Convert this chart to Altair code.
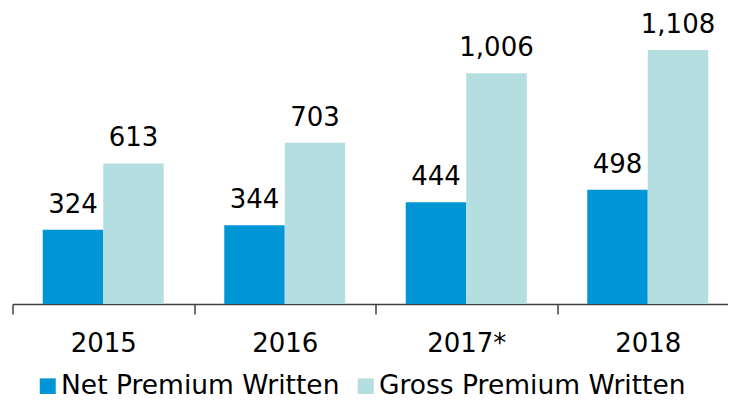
import altair as alt
import pandas as pd

years = ["2015", "2016", "2017*", "2018"]
net = [324, 344, 444, 498]
gross = [613, 703, 1006, 1108]
series = ["Net Premium Written", "Gross Premium Written"]
colors = ["#0096D6", "#B4DEE0"]

rows = []
for i, yr in enumerate(years):
    rows.append({"year": yr, "series": series[0], "value": net[i]})
    rows.append({"year": yr, "series": series[1], "value": gross[i]})
df = pd.DataFrame(rows)

FONT = "DejaVu Sans"

x = alt.X(
    "year:N", sort=years, title=None,
    scale=alt.Scale(paddingInner=0, paddingOuter=0),
    axis=alt.Axis(labelAngle=0, labelFontSize=26, labelFont=FONT, labelColor="black",
                  tickBand="extent", tickSize=10, labelPadding=16,
                  domainColor="#404040", tickColor="#404040",
                  domainWidth=1.5, tickWidth=1.5, grid=False),
)
xoff = alt.XOffset("series:N", sort=series, scale=alt.Scale(paddingInner=0, paddingOuter=0.5))
y = alt.Y("value:Q", scale=alt.Scale(domain=[0, 1291]), axis=None)
color = alt.Color(
    "series:N", sort=series,
    scale=alt.Scale(domain=series, range=colors),
    legend=alt.Legend(orient="none", legendX=22, legendY=365, direction="horizontal",
                      title=None, symbolType="square", symbolSize=256, symbolStrokeWidth=0,
                      labelFontSize=26.5, labelFont=FONT, labelColor="black", labelOffset=0,
                      labelLimit=0, columnPadding=13, padding=0),
)

base = alt.Chart(df).encode(x=x, xOffset=xoff, y=y)
bars = base.mark_bar().encode(color=color)
labels = base.mark_text(fontSize=26, font=FONT, baseline="alphabetic", dy=-17, color="black").encode(
    text=alt.Text("value:Q", format=",")
)

chart = (
    (bars + labels)
    .properties(width=726, height=296,
                padding={"left": 4.5, "top": 0, "right": -10.5, "bottom": 90},
                autosize=alt.AutoSizeParams(type="none"))
    .configure_view(stroke=None)
)

chart.save("out.html", embed_options={"renderer": "svg", "actions": False})
